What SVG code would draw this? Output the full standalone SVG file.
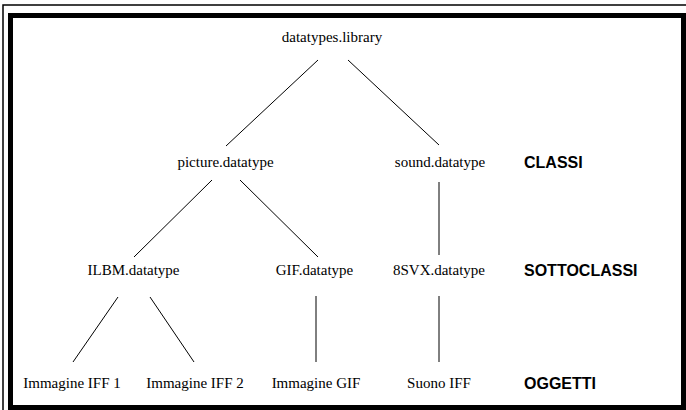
<svg xmlns="http://www.w3.org/2000/svg" width="686" height="410" viewBox="0 0 686 410">
<style>
.n{font-family:"Liberation Serif","Times New Roman",serif;font-size:15px;fill:#000;text-anchor:middle}
.l{font-family:"Liberation Sans",Arial,sans-serif;font-size:16px;font-weight:bold;fill:#000}
.c line{stroke:#000;stroke-width:1}
</style>
<rect width="686" height="410" fill="#fff"/>
<path d="M3 410 V5 H686" fill="none" stroke="#000" stroke-width="1.5"/>
<rect x="10.5" y="15.5" width="673" height="392" fill="none" stroke="#000" stroke-width="5"/>
<g class="c" id="connectors">
<line x1="318" y1="60" x2="226" y2="146"/>
<line x1="348" y1="60" x2="439" y2="145"/>
<line x1="212" y1="180" x2="134" y2="257"/>
<line x1="240" y1="180" x2="318" y2="257"/>
<line x1="439" y1="182" x2="439" y2="255"/>
<line x1="118" y1="297" x2="73" y2="362"/>
<line x1="150" y1="297" x2="194" y2="362"/>
<line x1="316" y1="296" x2="316" y2="362"/>
<line x1="439" y1="296" x2="439" y2="362"/>
</g>
<g id="library"><text class="n" x="332" y="42">datatypes.library</text></g>
<g id="picture"><text class="n" x="225.5" y="167">picture.datatype</text></g>
<g id="sound"><text class="n" x="440" y="167">sound.datatype</text></g>
<g id="ilbm"><text class="n" x="133.5" y="275">ILBM.datatype</text></g>
<g id="gif"><text class="n" x="314.5" y="275">GIF.datatype</text></g>
<g id="svx"><text class="n" x="439" y="275">8SVX.datatype</text></g>
<g id="iff1"><text class="n" x="72" y="388">Immagine IFF 1</text></g>
<g id="iff2"><text class="n" x="195" y="388">Immagine IFF 2</text></g>
<g id="imggif"><text class="n" x="316" y="388">Immagine GIF</text></g>
<g id="suono"><text class="n" x="439" y="388">Suono IFF</text></g>
<g id="labels">
<text class="l" x="524" y="168">CLASSI</text>
<text class="l" x="524" y="276">SOTTOCLASSI</text>
<text class="l" x="524" y="389">OGGETTI</text>
</g>
</svg>
